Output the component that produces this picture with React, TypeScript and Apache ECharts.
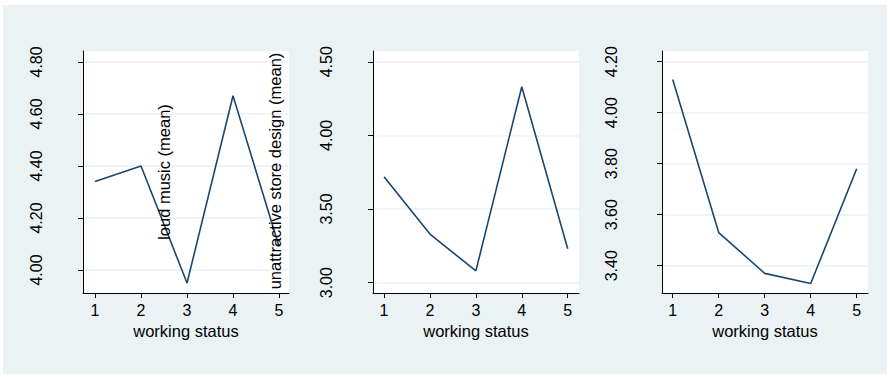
import React, { useEffect, useRef } from "react";
import * as echarts from "echarts";

const categories = [1, 2, 3, 4, 5];
const loudMusic = [4.34, 4.4, 3.95, 4.67, 4.09];
const storeDesign = [3.72, 3.33, 3.08, 4.33, 3.23];
const thirdMeasure = [4.13, 3.53, 3.37, 3.33, 3.78];
const ticks1 = [4.0, 4.2, 4.4, 4.6, 4.8];
const ticks2 = [3.0, 3.5, 4.0, 4.5];
const ticks3 = [3.4, 3.6, 3.8, 4.0, 4.2];
const xTitle = "working status";
const yTitle1 = "loud music (mean)";
const yTitle2 = "unattractive store design (mean)";

const FONT = "'Liberation Sans', Arial, Helvetica, sans-serif";
const BG = "#eaf2f3";
const LINE = "#1a476f";

export default function App() {
  const ref = useRef<HTMLDivElement>(null);
  useEffect(() => {
    document.body.style.margin = "0";
    const chart = echarts.init(ref.current!, null, { renderer: "svg" });
    const panels = [
      { left: 83, xmin: 0.739, xmax: 5.217, ymin: 3.9115, ymax: 4.842, ticks: ticks1, data: loudMusic, lm: 39 },
      { left: 373, xmin: 0.76, xmax: 5.246, ymin: 2.93, ymax: 4.573, ticks: ticks2, data: storeDesign, lm: 39 },
      { left: 662, xmin: 0.767, xmax: 5.246, ymin: 3.293, ymax: 4.242, ticks: ticks3, data: thirdMeasure, lm: 43 },
    ];
    const option: any = {
      animation: false,
      backgroundColor: "#ffffff",
      textStyle: { fontFamily: FONT },
      graphic: [
        { type: "rect", z: -10, shape: { x: 3, y: 5, width: 884, height: 369 }, style: { fill: BG } },
        ...panels.map((p) => ({
          type: "rect",
          z: -5,
          shape: { x: p.left, y: 51, width: 206, height: 242 },
          style: { fill: "#ffffff" },
        })),
        {
          type: "text", z: 100, x: 164, y: 172, rotation: Math.PI / 2,
          style: { text: yTitle1, font: `16.5px ${FONT}`, fill: "#000", textAlign: "center", textVerticalAlign: "middle" },
        },
        {
          type: "text", z: 100, x: 275, y: 171, rotation: Math.PI / 2,
          style: { text: yTitle2, font: `16.5px ${FONT}`, fill: "#000", textAlign: "center", textVerticalAlign: "middle" },
        },
      ],
      grid: panels.map((p) => ({ left: p.left, top: 51, width: 206, height: 242, containLabel: false })),
      xAxis: panels.map((p, i) => ({
        type: "value",
        gridIndex: i,
        min: p.xmin,
        max: p.xmax,
        name: xTitle,
        nameLocation: "middle",
        nameGap: 29,
        nameTextStyle: { fontSize: 16.5, color: "#000", fontFamily: FONT },
        axisLine: { show: true, onZero: false, lineStyle: { color: "#000", width: 1 } },
        axisTick: { show: true, length: 5, customValues: categories, lineStyle: { color: "#000" } },
        axisLabel: { customValues: categories, fontSize: 16, color: "#000", margin: 9, fontFamily: FONT },
        splitLine: { show: false },
      })),
      yAxis: panels.map((p, i) => ({
        type: "value",
        gridIndex: i,
        min: p.ymin,
        max: p.ymax,
        axisLine: { show: true, lineStyle: { color: "#000", width: 1 } },
        axisTick: { show: true, length: 5, customValues: p.ticks, lineStyle: { color: "#000" } },
        axisLabel: {
          customValues: p.ticks,
          rotate: 90,
          fontSize: 16,
          color: "#000",
          margin: p.lm,
          fontFamily: FONT,
          formatter: (v: number) => v.toFixed(2),
        },
        splitLine: { show: true, lineStyle: { color: BG, width: 1.5 } },
      })),
      series: panels.map((p, i) => ({
        type: "line",
        xAxisIndex: i,
        yAxisIndex: i,
        data: categories.map((c, j) => [c, p.data[j]]),
        showSymbol: false,
        symbol: "none",
        lineStyle: { color: LINE, width: 1.6 },
        z: 5,
      })),
    };
    chart.setOption(option);
    return () => chart.dispose();
  }, []);
  return <div ref={ref} style={{ width: 891, height: 377 }} />;
}
